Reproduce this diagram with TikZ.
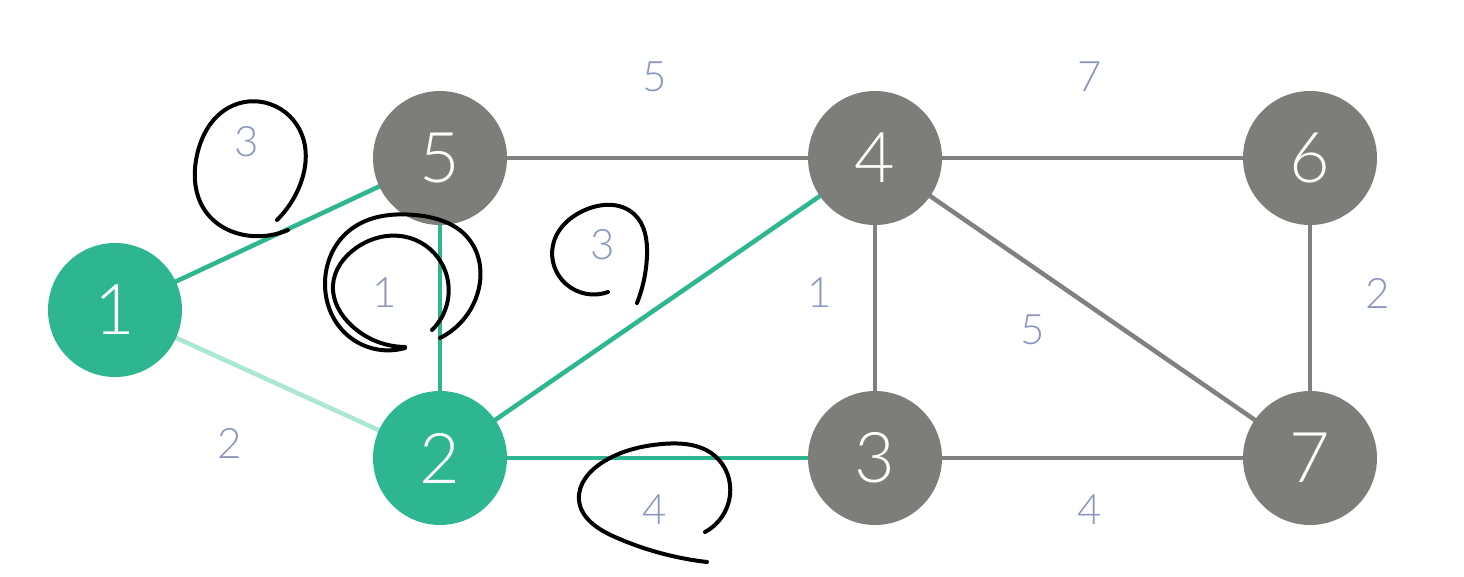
\documentclass[tikz,border=0pt]{standalone}
\usepackage{fontspec}
\setmainfont{Lato}[UprightFont={* Light}]
\usetikzlibrary{hobby}
\definecolor{gnode}{RGB}{45,182,143}
\definecolor{gynode}{RGB}{125,125,122}
\definecolor{gyedge}{RGB}{128,128,128}
\definecolor{lgedge}{RGB}{172,230,212}
\definecolor{lbl}{RGB}{140,150,190}
\begin{document}
\begin{tikzpicture}[x=1pt,y=-1pt,
  vert/.style={circle,minimum size=134pt,inner sep=0pt,text=white,font=\fontsize{70}{70}\selectfont},
  gv/.style={vert,fill=gnode},
  gyv/.style={vert,fill=gynode},
  ge/.style={draw=gnode,line width=4.5pt},
  ye/.style={draw=gyedge,line width=4.5pt},
  le/.style={draw=lgedge,line width=4.5pt},
  wt/.style={text=lbl,font=\fontsize{42}{42}\selectfont,inner sep=0pt},
  ink/.style={draw=black,line width=4pt,line cap=round,line join=round,use Hobby shortcut}]
\useasboundingbox (0,0) rectangle (1464,576);
\fill[white] (0,0) rectangle (1464,576);
% coordinates of vertices
\coordinate (c1) at (115,310);
\coordinate (c5) at (440,158);
\coordinate (c4) at (875,158);
\coordinate (c6) at (1310,158);
\coordinate (c2) at (440,458);
\coordinate (c3) at (875,458);
\coordinate (c7) at (1310,458);
% edges
\draw[le] (c1) -- (c2);
\draw[ge] (c1) -- (c5);
\draw[ge] (c5) -- (c2);
\draw[ge] (c2) -- (c4);
\draw[ge] (c2) -- (c3);
\draw[ye] (c5) -- (c4);
\draw[ye] (c4) -- (c6);
\draw[ye] (c4) -- (c3);
\draw[ye] (c4) -- (c7);
\draw[ye] (c6) -- (c7);
\draw[ye] (c3) -- (c7);
% vertices
\node[gv] (n1) at (c1) {1};
\node[gyv] (n5) at (c5) {5};
\node[gyv] (n4) at (c4) {4};
\node[gyv] (n6) at (c6) {6};
\node[gv] (n2) at (c2) {2};
\node[gyv] (n3) at (c3) {3};
\node[gyv] (n7) at (c7) {7};
% weights
\node[wt] (w54) at (655,77) {5};
\node[wt] (w46) at (1090,77) {7};
\node[wt] (w15) at (247,142) {3};
\node[wt] (w52) at (385,293) {1};
\node[wt] (w24) at (603,245) {3};
\node[wt] (w43) at (820,293) {1};
\node[wt] (w47) at (1033,330) {5};
\node[wt] (w67) at (1378,293) {2};
\node[wt] (w12) at (230,443) {2};
\node[wt] (w23) at (655,510) {4};
\node[wt] (w37) at (1090,510) {4};
% hand-drawn loops
\draw[ink] (288,230) .. (252,236) .. (206,212) .. (197,155) .. (228,108) .. (270,104) .. (302,135) .. (300,185) .. (277,220);
\draw[ink] (405,348) .. (345,333) .. (325,285) .. (350,230) .. (415,215) .. (468,238) .. (476,298) .. (440,338);
\draw[ink] (405,347) .. (352,326) .. (333,285) .. (356,248) .. (410,238) .. (444,268) .. (432,330);
\draw[ink] (608,292) .. (566,284) .. (553,245) .. (585,210) .. (634,214) .. (647,255) .. (637,303);
\draw[ink] (705,532) .. (730,495) .. (715,456) .. (662,444) .. (603,462) .. (579,500) .. (615,537) .. (707,562);
\end{tikzpicture}
\end{document}
